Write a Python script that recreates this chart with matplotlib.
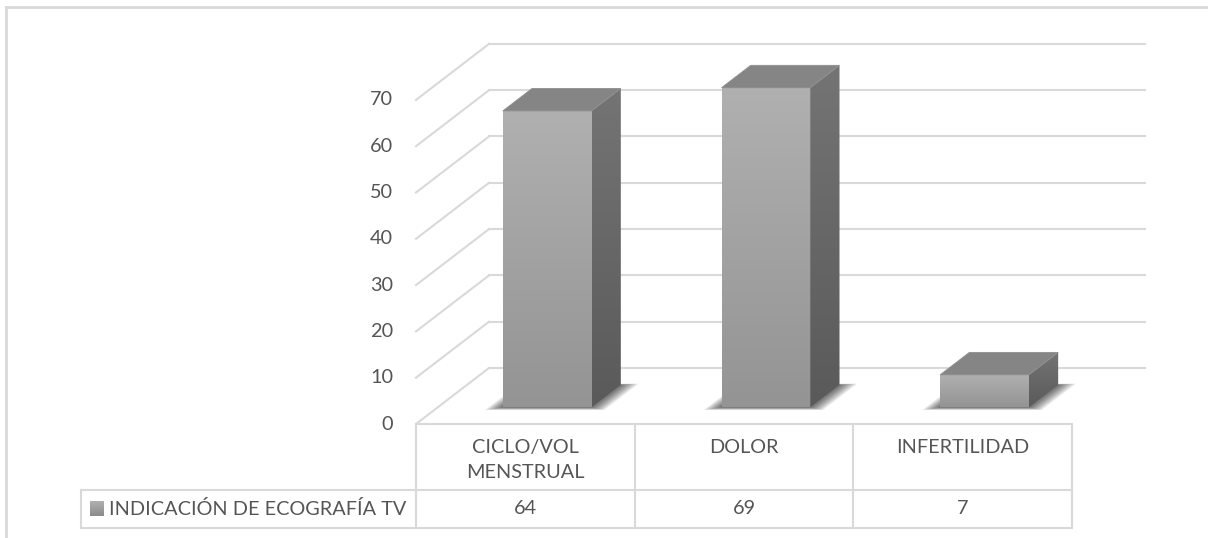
import numpy as np
import matplotlib
matplotlib.use("Agg")
import matplotlib.pyplot as plt
from matplotlib.patches import Polygon
from matplotlib.colors import LinearSegmentedColormap
from matplotlib.lines import Line2D

plt.rcParams["font.family"] = ["Lato", "DejaVu Sans"]

# data
categories = ["CICLO/VOL\nMENSTRUAL", "DOLOR", "INFERTILIDAD"]
values = [64, 69, 7]
series_name = "INDICACIÓN DE ECOGRAFÍA TV"
y_ticks = [0, 10, 20, 30, 40, 50, 60, 70]

TEXT = "#555555"
GRID = "#d9d9d9"
FS = 14.3

# pixel layout of the (fake 3d) plot
W, H = 1208, 538
PX_CAT = 218.67   # pixels per category
PX_VAL = 4.63     # pixels per value unit
X0, Y0 = 416, 424  # front-left floor corner

fig = plt.figure(figsize=(W / 100, H / 100), dpi=100)
ax = fig.add_axes([0, 0, 1, 1])
ax.axis("off")

def px_x(p):
    return (p - X0) / PX_CAT

def px_y(p):
    return (Y0 - p) / PX_VAL

# depth offset (back wall relative to front)
DX = 73 / PX_CAT
DY = 56 / PX_VAL
n = len(categories)

# gridlines: back wall + left wall
for v in y_ticks:
    ax.plot([DX, n + DX], [v + DY, v + DY], color=GRID, lw=1.5, zorder=1)
    ax.plot([0, DX], [v, v + DY], color=GRID, lw=1.5, zorder=1)

# y tick labels
for v in y_ticks:
    ax.text(px_x(393), v, str(v), ha="right", va="center", fontsize=FS, color=TEXT)

front_cmap = LinearSegmentedColormap.from_list("front", ["#949494", "#b0b0b0"])
side_cmap = LinearSegmentedColormap.from_list("side", ["#5a5a5a", "#747474"])
grad = np.linspace(0, 1, 100).reshape(-1, 1)

bw0, bw1 = 0.297, 0.703   # bar span inside category
d0, d1 = 0.30, 0.70       # bar depth span

for i, v in enumerate(values):
    xl, xr = i + bw0, i + bw1
    # soft shadow on the floor
    for m in np.linspace(1, 0.1, 9):
        mx0, mx1, md0, md1 = 0.065 * m, 0.075 * m, 0.05 * m, 0.02 * m
        a, b = d0 - md0, d1 + md1
        pts = [(xl - mx0 + a * DX, a * DY), (xr + mx1 + a * DX, a * DY),
               (xr + mx1 + b * DX, b * DY), (xl - mx0 + b * DX, b * DY)]
        ax.add_patch(Polygon(pts, closed=True, facecolor="black", edgecolor="none",
                             alpha=0.08, zorder=2))
    # front face (gradient)
    fx0, fx1 = xl + d0 * DX, xr + d0 * DX
    fy0, fy1 = d0 * DY, d0 * DY + v
    ax.imshow(grad, extent=[fx0, fx1, fy0, fy1], origin="lower", cmap=front_cmap,
              aspect="auto", zorder=4, interpolation="bilinear")
    # side face (gradient, clipped)
    side = [(fx1, fy0), (xr + d1 * DX, d1 * DY), (xr + d1 * DX, d1 * DY + v), (fx1, fy1)]
    sp = Polygon(side, closed=True, facecolor="none", edgecolor="none", zorder=4)
    ax.add_patch(sp)
    im = ax.imshow(grad, extent=[fx1, xr + d1 * DX, fy0, d1 * DY + v], origin="lower",
                   cmap=side_cmap, aspect="auto", zorder=4, interpolation="bilinear")
    im.set_clip_path(sp)
    # top face
    top = [(fx0, fy1), (fx1, fy1), (xr + d1 * DX, d1 * DY + v), (xl + d1 * DX, d1 * DY + v)]
    ax.add_patch(Polygon(top, closed=True, facecolor="#858585", edgecolor="#8e8e8e",
                         lw=0.6, zorder=5))

# data table under the plot
r1, r2 = px_y(490), px_y(528)
lab_x = px_x(81)
tkw = dict(color=GRID, lw=1.5, zorder=6)
ax.plot([0, n], [0, 0], **tkw)
ax.plot([lab_x, n], [r1, r1], **tkw)
ax.plot([lab_x, n], [r2, r2], **tkw)
for j in range(n + 1):
    ax.plot([j, j], [0, r2], **tkw)
ax.plot([lab_x, lab_x], [r1, r2], **tkw)

for j, (c, v) in enumerate(zip(categories, values)):
    ax.text(j + 0.5, px_y(439), c, ha="center", va="top", fontsize=FS, color=TEXT,
            linespacing=1.6, zorder=7)
    ax.text(j + 0.5, (r1 + r2) / 2, str(v), ha="center", va="center", fontsize=FS,
            color=TEXT, zorder=7)

# legend key + series name
key_y0, key_y1 = px_y(516), px_y(502)
ax.imshow(grad, extent=[px_x(90), px_x(104), key_y0, key_y1], origin="lower",
          cmap=LinearSegmentedColormap.from_list("key", ["#8a8a8a", "#b0b0b0"]),
          aspect="auto", zorder=7)
ax.text(px_x(109), (r1 + r2) / 2, series_name, ha="left", va="center", fontsize=FS,
        color=TEXT, zorder=7)

ax.set_xlim(px_x(0), px_x(W))
ax.set_ylim(px_y(H), px_y(0))

# chart area border (only top/left visible)
fig.add_artist(Line2D([6 / W, 1], [1 - 7 / H, 1 - 7 / H], color=GRID, lw=2))
fig.add_artist(Line2D([6 / W, 6 / W], [0, 1 - 7 / H], color=GRID, lw=2))

fig.savefig("out.png", dpi=100)
